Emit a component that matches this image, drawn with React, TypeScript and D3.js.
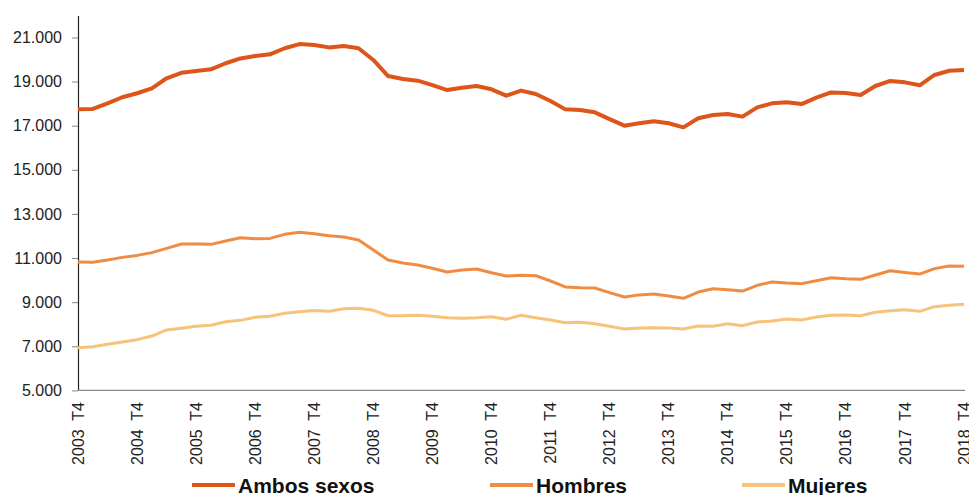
import React, { useEffect, useRef } from "react";
import * as d3 from "d3";

const years = d3.range(2003, 2019);

// quarters from 2003 T4 to 2018 T4
const quarters: string[] = ["2003 T4"];
for (let y = 2004; y <= 2018; y++) {
  ["T1", "T2", "T3", "T4"].forEach((q) => quarters.push(y + " " + q));
}

const ambos = [
  17750, 17760, 18015, 18290, 18470, 18690, 19150, 19400, 19480, 19555,
  19830, 20050, 20160, 20235, 20510, 20700, 20660, 20550, 20610, 20510,
  19980, 19250, 19115, 19040, 18840, 18615, 18720, 18800, 18650, 18360,
  18590, 18435, 18120, 17740, 17710, 17605, 17300, 17000, 17115, 17200,
  17110, 16925, 17335, 17485, 17530, 17410, 17830, 18015, 18060, 17980,
  18270, 18510, 18480, 18390, 18800, 19030, 18965, 18830, 19300, 19490,
  19525,
];

const hombres = [
  10820, 10805, 10910, 11030, 11120, 11245, 11440, 11635, 11635, 11620,
  11770, 11920, 11875, 11890, 12075, 12165, 12100, 12015, 11955, 11820,
  11365, 10910, 10775, 10685, 10535, 10365, 10460, 10505, 10335, 10185,
  10215, 10200, 9960, 9690, 9655, 9640, 9430, 9235, 9330, 9370,
  9280, 9175, 9460, 9610, 9565, 9505, 9765, 9915, 9870, 9840,
  9975, 10110, 10065, 10035, 10230, 10425, 10350, 10275, 10520, 10640,
  10625,
];

const mujeres = [
  6935, 6980, 7090, 7195, 7300, 7465, 7740, 7815, 7905, 7950,
  8115, 8175, 8315, 8360, 8495, 8570, 8620, 8585, 8705, 8720,
  8630, 8385, 8385, 8405, 8360, 8295, 8270, 8295, 8340, 8225,
  8405, 8295, 8190, 8070, 8085, 8025, 7905, 7785, 7830, 7840,
  7830, 7785, 7920, 7905, 8025, 7935, 8100, 8145, 8235, 8190,
  8325, 8405, 8420, 8385, 8540, 8615, 8660, 8585, 8795, 8855,
  8900,
];

const yTicks = [5000, 7000, 9000, 11000, 13000, 15000, 17000, 19000, 21000];

const seriesNames = ["Ambos sexos", "Hombres", "Mujeres"];
const seriesColors = ["#DD5519", "#F08C42", "#F7C27A"];
const seriesWidths = [4, 3, 3];

export default function App() {
  const ref = useRef<SVGSVGElement>(null);

  useEffect(() => {
    const svg = d3.select(ref.current);
    svg.selectAll("*").remove();

    const left = 78;
    const right = 964;
    const top = 15.4;
    const bottom = 390.4;

    const x = d3.scalePoint<string>().domain(quarters).range([left, right]);
    const y = d3.scaleLinear().domain([5000, 22000]).range([bottom, top]);

    const font = "Arial, 'Liberation Sans', sans-serif";

    // y axis
    const yAxis = svg
      .append("g")
      .attr("transform", `translate(${left},0)`)
      .call(
        d3
          .axisLeft(y)
          .tickValues(yTicks)
          .tickSize(6)
          .tickSizeOuter(0)
          .tickPadding(10)
          .tickFormat((d) => d3.format(",")(d as number).replace(",", "."))
      );
    yAxis.select(".domain").attr("stroke", "#222").attr("stroke-width", 1.2);
    yAxis.selectAll(".tick line").attr("stroke", "#888");
    yAxis
      .selectAll(".tick text")
      .attr("font-family", font)
      .attr("font-size", 16)
      .attr("fill", "#222");

    // x axis line
    svg
      .append("line")
      .attr("x1", left)
      .attr("x2", right + 1)
      .attr("y1", y(5000))
      .attr("y2", y(5000))
      .attr("stroke", "#888")
      .attr("stroke-width", 1.2);

    // x labels
    svg
      .append("g")
      .selectAll("text")
      .data(years)
      .enter()
      .append("text")
      .attr("transform", (d) => `translate(${x(d + " T4")},402) rotate(-90)`)
      .attr("text-anchor", "end")
      .attr("dy", "0.35em")
      .attr("font-family", font)
      .attr("font-size", 16)
      .attr("fill", "#222")
      .style("white-space", "pre")
      .text((d) => d + "  T4");

    const data = [ambos, hombres, mujeres];
    const line = d3
      .line<number>()
      .x((d, i) => x(quarters[i]) as number)
      .y((d) => y(d));

    // draw back to front
    [2, 1, 0].forEach((k) => {
      svg
        .append("path")
        .datum(data[k])
        .attr("d", line)
        .attr("fill", "none")
        .attr("stroke", seriesColors[k])
        .attr("stroke-width", seriesWidths[k])
        .attr("stroke-linejoin", "round");
    });

    // legend
    const legendX = [192, 490, 742];
    const lg = svg
      .append("g")
      .selectAll("g")
      .data(seriesNames)
      .enter()
      .append("g")
      .attr("transform", (d, i) => `translate(${legendX[i]},485)`);
    lg.append("line")
      .attr("x1", 0)
      .attr("x2", 43)
      .attr("stroke", (d, i) => seriesColors[i])
      .attr("stroke-width", 4);
    lg.append("text")
      .attr("x", 46)
      .attr("y", 7.5)
      .attr("font-family", font)
      .attr("font-size", 21)
      .attr("font-weight", "bold")
      .attr("fill", "#111")
      .text((d) => d);
  }, []);

  return (
    <svg
      ref={ref}
      width={969}
      height={495}
      style={{ position: "absolute", left: 0, top: 0, background: "#fff" }}
    />
  );
}
